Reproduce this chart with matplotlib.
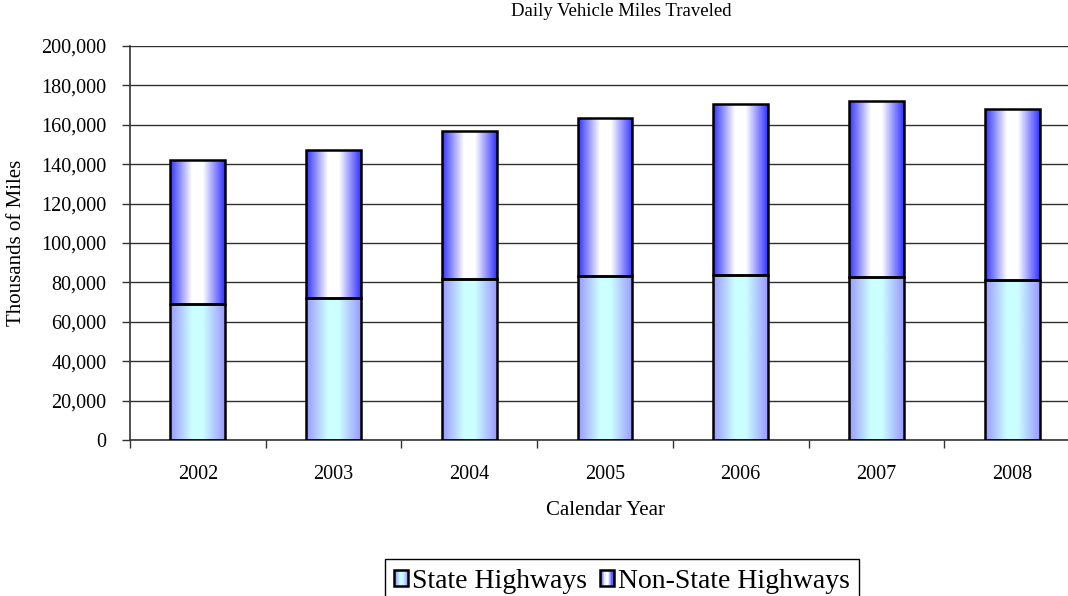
import numpy as np
import matplotlib
matplotlib.use("Agg")
import matplotlib.pyplot as plt
from matplotlib.patches import Rectangle
from matplotlib.legend_handler import HandlerBase
from matplotlib.ticker import FuncFormatter, MultipleLocator

years = ["2002", "2003", "2004", "2005", "2006", "2007", "2008"]
state_hwy = [69000, 71900, 81600, 83300, 83700, 82900, 81100]
total_vmt = [142300, 147200, 156800, 163500, 170800, 172300, 168000]
non_state_hwy = [t - s for t, s in zip(total_vmt, state_hwy)]

state_colors = ((0.6, 0.6, 1.0), (0.8, 1.0, 1.0))    # edge, center
nonstate_colors = ((0.2, 0.2, 1.0), (1.0, 1.0, 1.0))

plt.rcParams["font.family"] = ["Liberation Serif", "DejaVu Serif"]

fig = plt.figure(figsize=(10.68, 5.96), dpi=100)
ax = fig.add_axes([130 / 1068, 156 / 596, 950 / 1068, 394 / 596])

x = np.arange(len(years))
w = 0.405


def ramp(n, edge_rgb, center_rgb):
    u = np.linspace(0, 1, n)
    t = np.clip((np.abs(u - 0.5) - 0.1) / 0.4, 0, 1)
    edge = np.array(edge_rgb)
    center = np.array(center_rgb)
    return center[None, :] * (1 - t[:, None]) + edge[None, :] * t[:, None]


def gradient_fill(bars, colors):
    img = ramp(200, *colors)[None, :, :]
    for b in bars:
        x0, y0 = b.get_x(), b.get_y()
        im = ax.imshow(img, extent=[x0, x0 + b.get_width(), y0, y0 + b.get_height()],
                       aspect="auto", zorder=2, interpolation="bilinear")
        im.set_clip_path(b)
        b.set_facecolor("none")
        b.set_zorder(3)


class GradientHandler(HandlerBase):
    def __init__(self, colors):
        super().__init__()
        self.colors = colors

    def create_artists(self, legend, orig_handle, xdescent, ydescent, width, height, fontsize, trans):
        n = 12
        cols = ramp(n, *self.colors)
        arts = []
        for i in range(n):
            r = Rectangle((-xdescent + i * width / n, -ydescent), width / n, height,
                          facecolor=cols[i], edgecolor="none", transform=trans)
            arts.append(r)
        arts.append(Rectangle((-xdescent, -ydescent), width, height, facecolor="none",
                              edgecolor="black", linewidth=1.8, transform=trans))
        return arts


b1 = ax.bar(x, state_hwy, w, edgecolor="black", linewidth=1.8, label="State Highways")
b2 = ax.bar(x, non_state_hwy, w, bottom=state_hwy, edgecolor="black", linewidth=1.8,
            label="Non-State Highways")
gradient_fill(b1, state_colors)
gradient_fill(b2, nonstate_colors)

ax.set_xlim(-0.5, len(years) - 0.5)
ax.set_ylim(0, 200000)
ax.yaxis.set_major_locator(MultipleLocator(20000))
ax.yaxis.set_major_formatter(FuncFormatter(lambda v, p: f"{int(v):,}"))
ax.grid(axis="y", color="#303030", linewidth=1.0, zorder=0)
ax.set_axisbelow(True)

ax.set_xticks(np.arange(len(years) + 1) - 0.5)
ax.set_xticklabels([])
ax.set_xticks(x, minor=True)
ax.set_xticklabels(years, minor=True)
ax.tick_params(axis="x", which="major", length=6, width=1, color="#333333")
ax.tick_params(axis="x", which="minor", length=0, pad=18, labelsize=14.5)
ax.tick_params(axis="y", length=6, width=1, color="#333333", pad=11, labelsize=14.5)

for s in ["top", "right"]:
    ax.spines[s].set_visible(False)
for s in ["left", "bottom"]:
    ax.spines[s].set_color("#333333")
    ax.spines[s].set_linewidth(1.2)

ax.set_xlabel("Calendar Year", fontsize=15, labelpad=12)
ax.set_ylabel("Thousands of Miles", fontsize=15, va="center")
ax.yaxis.set_label_coords(-0.119, 0.5)
fig.text(621 / 1068, 1 - 12 / 596, "Daily Vehicle Miles Traveled", ha="center", va="center", fontsize=13.5)

fig.legend(handles=[b1, b2], loc="upper center", bbox_to_anchor=(622 / 1068, 1 - 559 / 596),
           handler_map={b1: GradientHandler(state_colors), b2: GradientHandler(nonstate_colors)},
           ncol=2, fontsize=20, frameon=True, fancybox=False, edgecolor="black",
           handlelength=0.5, handleheight=0.5, handletextpad=0.15, columnspacing=0.45,
           borderpad=0.35, borderaxespad=0, framealpha=1)

fig.savefig("out.png", dpi=100)
